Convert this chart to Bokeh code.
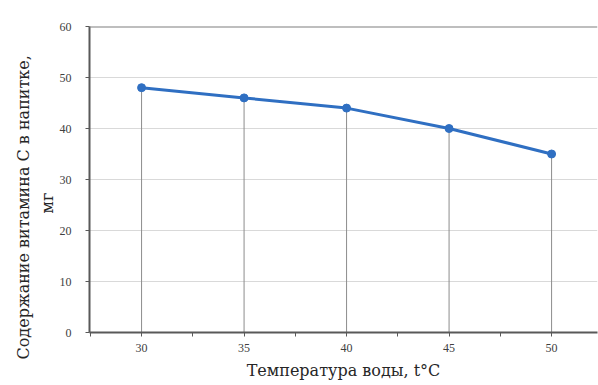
from bokeh.plotting import figure
from bokeh.models import FixedTicker, Range1d, Span, Title
from bokeh.embed import file_html
from bokeh.resources import INLINE

temps = [30, 35, 40, 45, 50]
vitamin_c = [48, 46, 44, 40, 35]
y_ticks = [0, 10, 20, 30, 40, 50, 60]
x_title = "Температура воды, t°C"
y_title_lines = ["Содержание витамина С в напитке,", "мг"]

p = figure(width=598, height=385, output_backend="svg", toolbar_location=None,
           x_range=Range1d(27.46, 52.24), y_range=Range1d(0, 60),
           min_border_left=89, min_border_right=1, min_border_top=26, min_border_bottom=53)
p.outline_line_color = None
p.background_fill_color = "white"
p.border_fill_color = "white"

# grid
p.xgrid.grid_line_color = None
p.ygrid.grid_line_color = "#d9d9d9"
p.ygrid.grid_line_width = 1
p.yaxis.ticker = FixedTicker(ticks=y_ticks)
p.xaxis.ticker = FixedTicker(ticks=temps, minor_ticks=[27.5, 32.5, 37.5, 42.5, 47.5, 52.5])

tick_font = "Liberation Serif"
title_font = "DejaVu Serif"
for ax in (p.xaxis[0], p.yaxis[0]):
    ax.axis_line_color = "#595959"
    ax.axis_line_width = 2
    ax.major_tick_line_color = "#595959"
    ax.minor_tick_line_color = "#595959"
    ax.major_tick_in = 0
    ax.major_tick_out = 4
    ax.minor_tick_in = 0
    ax.minor_tick_out = 0
    ax.major_label_text_font = tick_font
    ax.major_label_text_font_size = "12px"
    ax.major_label_text_color = "#404040"
p.xaxis.minor_tick_out = 4
p.yaxis.major_label_standoff = 14
p.xaxis.major_label_standoff = 7
p.xaxis.axis_label = x_title
p.xaxis.axis_label_standoff = 6
p.xaxis.axis_label_text_font = title_font
p.xaxis.axis_label_text_font_style = "normal"
p.xaxis.axis_label_text_font_size = "16px"
p.xaxis.axis_label_text_color = "#262626"

# y-axis title: two lines, placed as left-side titles (closest first)
for line, standoff, offset in ((y_title_lines[1], 0, 119), (y_title_lines[0], 6, -27)):
    t = Title(text=line, align="left", offset=offset, standoff=standoff,
              text_font=title_font, text_font_style="normal",
              text_font_size="16px", text_color="#262626")
    p.add_layout(t, "left")

# top border of plot area
p.add_layout(Span(location=60, dimension="width", line_color="#7f7f7f", line_width=2))

# drop lines
p.segment(x0=temps, y0=[0] * len(temps), x1=temps, y1=vitamin_c, line_color="#8c8c8c", line_width=1)

p.line(temps, vitamin_c, line_color="#2f6fc2", line_width=3)
p.scatter(temps, vitamin_c, size=8, fill_color="#2f6fc2", line_color="#2f6fc2")

open("out.html", "w").write(file_html(p, INLINE))
